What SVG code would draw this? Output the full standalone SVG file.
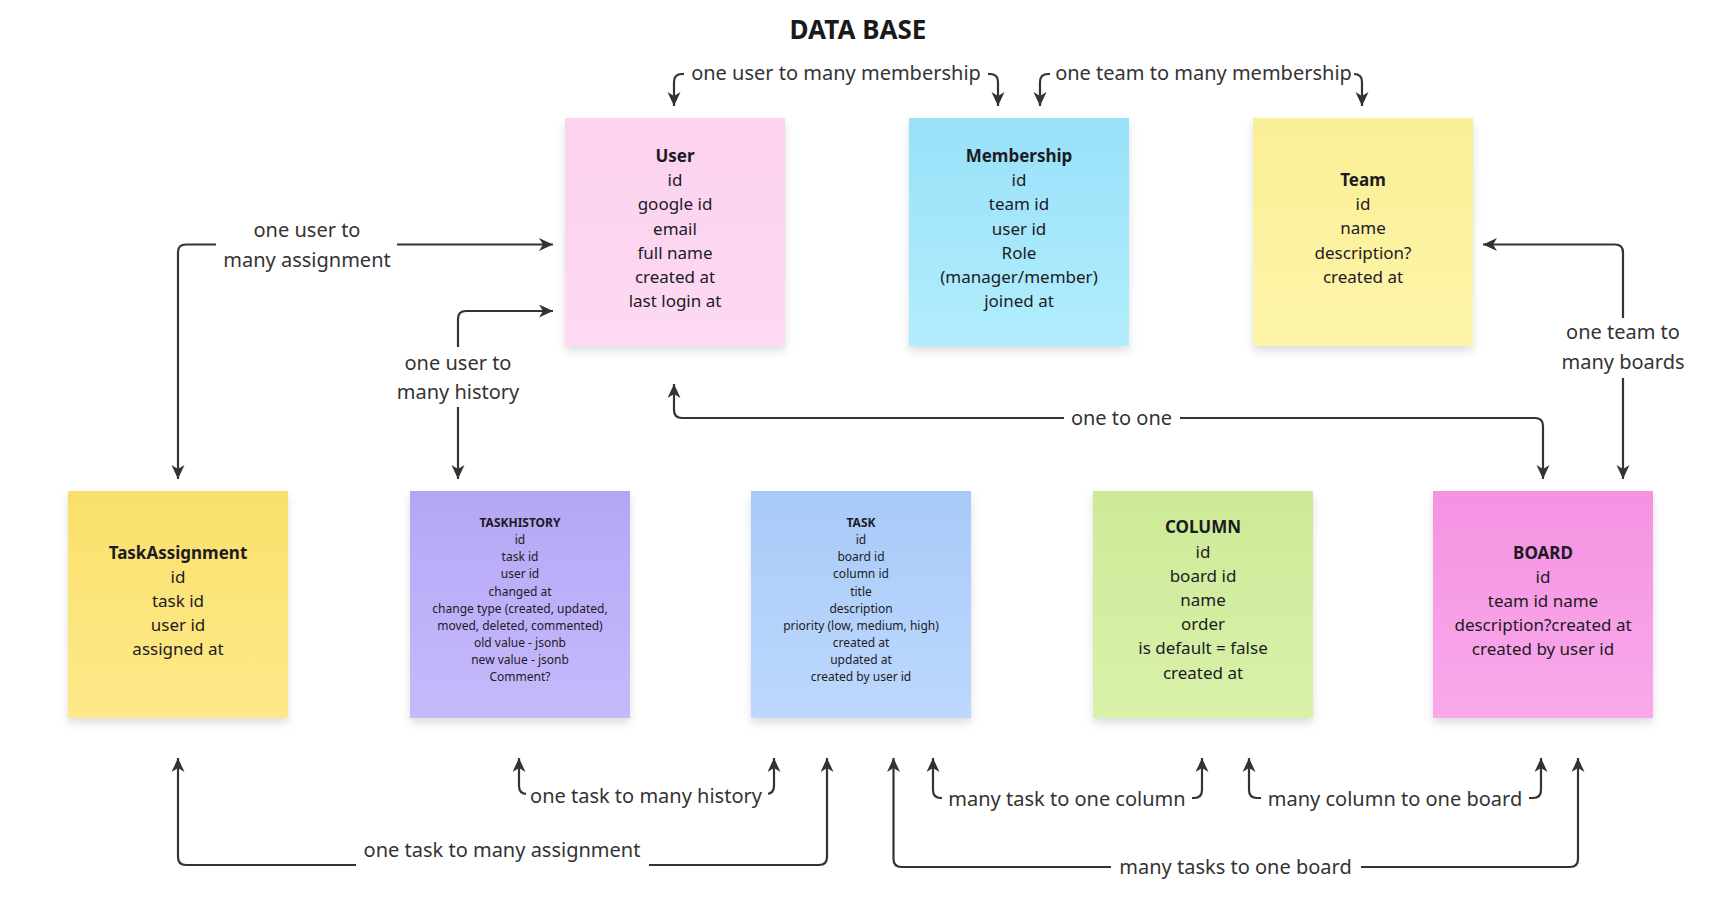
<svg xmlns="http://www.w3.org/2000/svg" width="1719" height="908" viewBox="0 0 1719 908">
<style>
.box{filter:url(#sh)}
.t{font-family:"Noto Sans","Open Sans","Liberation Sans",sans-serif;font-size:17px;fill:#1c1b24;text-anchor:middle}
.s{font-family:"Noto Sans","Open Sans","Liberation Sans",sans-serif;font-size:12px;fill:#1c1b24;text-anchor:middle}
.b{font-weight:700}
.lbl{font-family:"Noto Sans","Open Sans","Liberation Sans",sans-serif;font-size:20px;fill:#333;text-anchor:middle}
.ttl{font-family:"Noto Sans","Open Sans","Liberation Sans",sans-serif;font-size:26px;font-weight:700;fill:#1a1a1a;text-anchor:middle}
.c{fill:none;stroke:#333;stroke-width:2.2;marker-start:url(#ah);marker-end:url(#ah)}
.bg{fill:#fff}
</style>
<defs>
<filter id="sh" x="-10%" y="-10%" width="120%" height="125%">
<feDropShadow dx="0" dy="5" stdDeviation="4" flood-color="#000" flood-opacity="0.13"/>
</filter>
<marker id="ah" markerUnits="userSpaceOnUse" markerWidth="16" markerHeight="14" refX="14" refY="6.5" orient="auto-start-reverse">
<path d="M0,0 L14,6.5 L0,13 L4,6.5 Z" fill="#333"/>
</marker>
<linearGradient id="gUser" x1="0" y1="0" x2="0" y2="1"><stop offset="0" stop-color="#fbd2ef"/><stop offset="1" stop-color="#fdd9f3"/></linearGradient>
<linearGradient id="gMem" x1="0" y1="0" x2="0" y2="1"><stop offset="0" stop-color="#98e1f9"/><stop offset="1" stop-color="#b2edfd"/></linearGradient>
<linearGradient id="gTeam" x1="0" y1="0" x2="0" y2="1"><stop offset="0" stop-color="#faef96"/><stop offset="1" stop-color="#fdf5a9"/></linearGradient>
<linearGradient id="gTA" x1="0" y1="0" x2="0" y2="1"><stop offset="0" stop-color="#fae06a"/><stop offset="1" stop-color="#fde98b"/></linearGradient>
<linearGradient id="gTH" x1="0" y1="0" x2="0" y2="1"><stop offset="0" stop-color="#b5a6f5"/><stop offset="1" stop-color="#c6bafc"/></linearGradient>
<linearGradient id="gTask" x1="0" y1="0" x2="0" y2="1"><stop offset="0" stop-color="#a8caf8"/><stop offset="1" stop-color="#bdd8fd"/></linearGradient>
<linearGradient id="gCol" x1="0" y1="0" x2="0" y2="1"><stop offset="0" stop-color="#cdea97"/><stop offset="1" stop-color="#d9f1aa"/></linearGradient>
<linearGradient id="gBoard" x1="0" y1="0" x2="0" y2="1"><stop offset="0" stop-color="#f592e2"/><stop offset="1" stop-color="#f9a9eb"/></linearGradient>
</defs>
<rect width="1719" height="908" fill="#fff"/>
<text class="ttl" x="858" y="39">DATA BASE</text>

<g id="connectors">
<!-- one user to many membership -->
<path class="c" d="M674,106 V82 Q674,74 682,74 H990 Q998,74 998,82 V106"/>
<rect class="bg" x="684" y="60" width="304" height="28"/>
<text class="lbl" x="836" y="80">one user to many membership</text>
<!-- one team to many membership -->
<path class="c" d="M1040,106 V82 Q1040,74 1048,74 H1354 Q1362,74 1362,82 V106"/>
<rect class="bg" x="1050" y="60" width="304" height="28"/>
<text class="lbl" x="1203.5" y="80">one team to many membership</text>
<!-- one user to many assignment -->
<path class="c" d="M178,479 V252 Q178,244.5 186,244.5 H553"/>
<rect class="bg" x="216" y="212" width="181" height="64"/>
<text class="lbl" x="307" y="237">one user to</text>
<text class="lbl" x="307" y="267">many assignment</text>
<!-- one user to many history -->
<path class="c" d="M458,479 V319 Q458,311 466,311 H553"/>
<rect class="bg" x="392" y="347" width="132" height="60"/>
<text class="lbl" x="458" y="370">one user to</text>
<text class="lbl" x="458" y="399">many history</text>
<!-- one to one -->
<path class="c" d="M674,384 V410 Q674,418 682,418 H1535 Q1543,418 1543,426 V479"/>
<rect class="bg" x="1064" y="404" width="116" height="28"/>
<text class="lbl" x="1121.5" y="425">one to one</text>
<!-- one team to many boards -->
<path class="c" d="M1483,244.5 H1615 Q1623,244.5 1623,252.5 V479"/>
<rect class="bg" x="1556" y="318" width="134" height="60"/>
<text class="lbl" x="1623" y="339">one team to</text>
<text class="lbl" x="1623" y="369">many boards</text>
<!-- one task to many history -->
<path class="c" d="M519,758 V786 Q519,794 527,794 H766 Q774,794 774,786 V758"/>
<rect class="bg" x="526" y="782" width="242" height="28"/>
<text class="lbl" x="646" y="803">one task to many history</text>
<!-- one task to many assignment -->
<path class="c" d="M178,758 V857 Q178,865 186,865 H819 Q827,865 827,857 V758"/>
<rect class="bg" x="356" y="834" width="293" height="36"/>
<text class="lbl" x="502" y="857">one task to many assignment</text>
<!-- many task to one column -->
<path class="c" d="M933,758 V790 Q933,798 941,798 H1194 Q1202,798 1202,790 V758"/>
<rect class="bg" x="942" y="784" width="250" height="28"/>
<text class="lbl" x="1067" y="806">many task to one column</text>
<!-- many column to one board -->
<path class="c" d="M1249,758 V790 Q1249,798 1257,798 H1533 Q1541,798 1541,790 V758"/>
<rect class="bg" x="1261" y="784" width="268" height="28"/>
<text class="lbl" x="1395" y="806">many column to one board</text>
<!-- many tasks to one board -->
<path class="c" d="M893.5,758 V859 Q893.5,867 901.5,867 H1570 Q1578,867 1578,859 V758"/>
<rect class="bg" x="1111" y="852" width="250" height="30"/>
<text class="lbl" x="1235.5" y="874">many tasks to one board</text>
</g>

<g id="user">
<rect class="box" x="565" y="118" width="220" height="228" fill="url(#gUser)"/>
<text class="t"><tspan class="b" x="675" y="162">User</tspan><tspan x="675" dy="24.2">id</tspan><tspan x="675" dy="24.2">google id</tspan><tspan x="675" dy="24.2">email</tspan><tspan x="675" dy="24.2">full name</tspan><tspan x="675" dy="24.2">created at</tspan><tspan x="675" dy="24.2">last login at</tspan></text>
</g>
<g id="membership">
<rect class="box" x="909" y="118" width="220" height="228" fill="url(#gMem)"/>
<text class="t"><tspan class="b" x="1019" y="162">Membership</tspan><tspan x="1019" dy="24.2">id</tspan><tspan x="1019" dy="24.2">team id</tspan><tspan x="1019" dy="24.2">user id</tspan><tspan x="1019" dy="24.2">Role</tspan><tspan x="1019" dy="24.2">(manager/member)</tspan><tspan x="1019" dy="24.2">joined at</tspan></text>
</g>
<g id="team">
<rect class="box" x="1253" y="118" width="220" height="228" fill="url(#gTeam)"/>
<text class="t"><tspan class="b" x="1363" y="186">Team</tspan><tspan x="1363" dy="24.2">id</tspan><tspan x="1363" dy="24.2">name</tspan><tspan x="1363" dy="24.2">description?</tspan><tspan x="1363" dy="24.2">created at</tspan></text>
</g>
<g id="taskassignment">
<rect class="box" x="68" y="491" width="220" height="227" fill="url(#gTA)"/>
<text class="t"><tspan class="b" x="178" y="558.5">TaskAssignment</tspan><tspan x="178" dy="24.2">id</tspan><tspan x="178" dy="24.2">task id</tspan><tspan x="178" dy="24.2">user id</tspan><tspan x="178" dy="24.2">assigned at</tspan></text>
</g>
<g id="taskhistory">
<rect class="box" x="410" y="491" width="220" height="227" fill="url(#gTH)"/>
<text class="s"><tspan class="b" x="520" y="527.3">TASKHISTORY</tspan><tspan x="520" dy="17.05">id</tspan><tspan x="520" dy="17.05">task id</tspan><tspan x="520" dy="17.05">user id</tspan><tspan x="520" dy="17.05">changed at</tspan><tspan x="520" dy="17.05">change type (created, updated,</tspan><tspan x="520" dy="17.05">moved, deleted, commented)</tspan><tspan x="520" dy="17.05">old value - jsonb</tspan><tspan x="520" dy="17.05">new value - jsonb</tspan><tspan x="520" dy="17.05">Comment?</tspan></text>
</g>
<g id="task">
<rect class="box" x="751" y="491" width="220" height="227" fill="url(#gTask)"/>
<text class="s"><tspan class="b" x="861" y="527.3">TASK</tspan><tspan x="861" dy="17.05">id</tspan><tspan x="861" dy="17.05">board id</tspan><tspan x="861" dy="17.05">column id</tspan><tspan x="861" dy="17.05">title</tspan><tspan x="861" dy="17.05">description</tspan><tspan x="861" dy="17.05">priority (low, medium, high)</tspan><tspan x="861" dy="17.05">created at</tspan><tspan x="861" dy="17.05">updated at</tspan><tspan x="861" dy="17.05">created by user id</tspan></text>
</g>
<g id="column">
<rect class="box" x="1093" y="491" width="220" height="227" fill="url(#gCol)"/>
<text class="t"><tspan class="b" x="1203" y="533.3">COLUMN</tspan><tspan x="1203" dy="24.2">id</tspan><tspan x="1203" dy="24.2">board id</tspan><tspan x="1203" dy="24.2">name</tspan><tspan x="1203" dy="24.2">order</tspan><tspan x="1203" dy="24.2">is default = false</tspan><tspan x="1203" dy="24.2">created at</tspan></text>
</g>
<g id="board">
<rect class="box" x="1433" y="491" width="220" height="227" fill="url(#gBoard)"/>
<text class="t"><tspan class="b" x="1543" y="558.5">BOARD</tspan><tspan x="1543" dy="24.2">id</tspan><tspan x="1543" dy="24.2">team id name</tspan><tspan x="1543" dy="24.2">description?created at</tspan><tspan x="1543" dy="24.2">created by user id</tspan></text>
</g>
</svg>
